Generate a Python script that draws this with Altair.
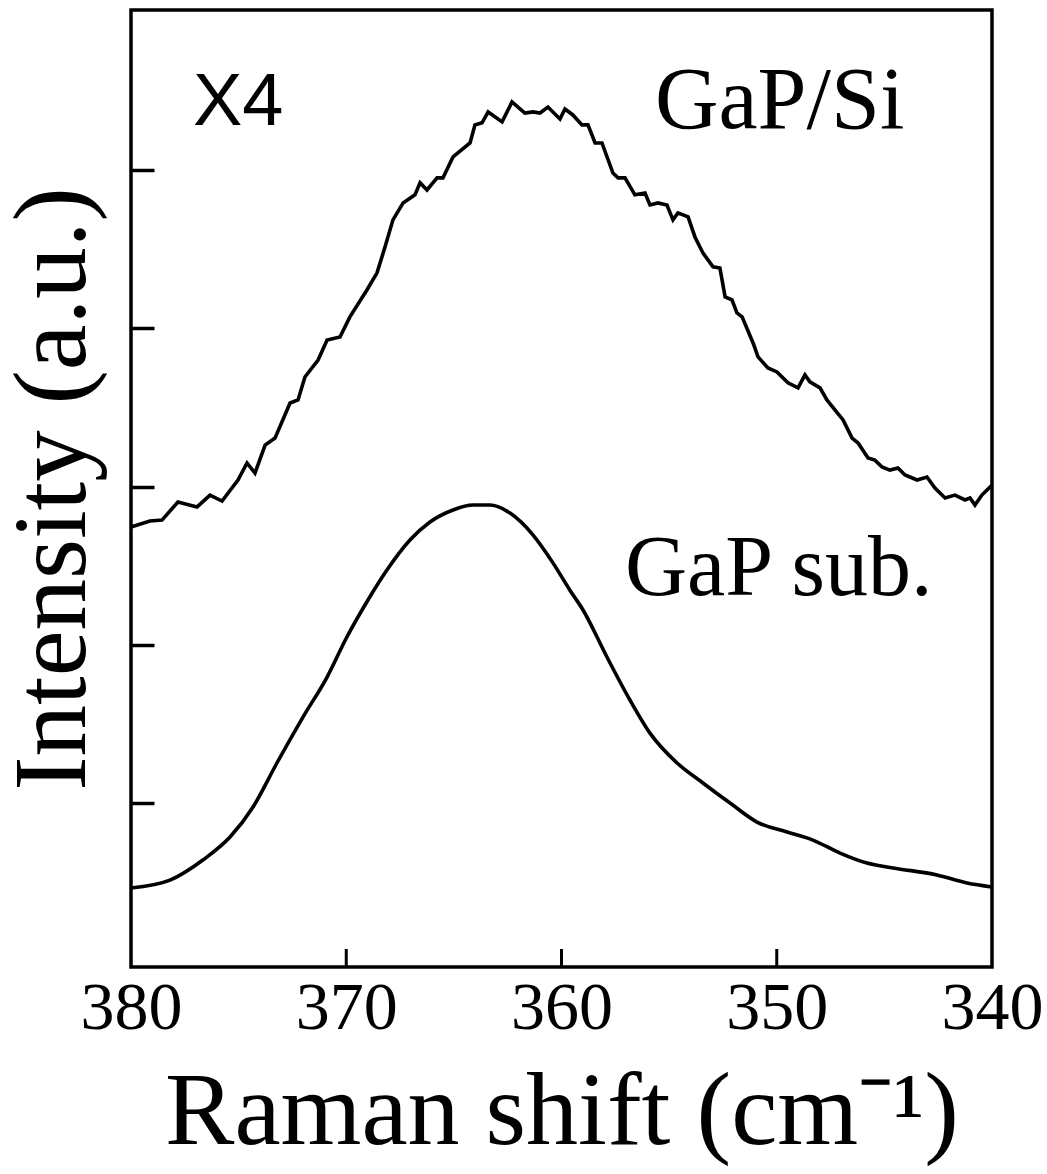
import altair as alt
import pandas as pd

# GaP/Si spectrum (x4), Raman shift in cm^-1, intensity in arbitrary units
gapsi_shift = [380.00, 379.12, 378.56, 377.82, 376.93, 376.33, 375.77, 375.03, 374.61, 374.24,
               373.77, 373.31, 372.61, 372.24, 371.92, 371.31, 370.89, 370.29, 369.83, 369.04,
               368.57, 368.20, 367.83, 367.36, 366.81, 366.57, 366.25, 365.78, 365.51, 365.04,
               364.25, 364.02, 363.69, 363.41, 362.76, 362.30, 361.70, 361.32,
               361.00, 360.63, 360.07, 359.84, 359.47, 359.05, 358.77, 358.44, 358.12, 357.61,
               357.37, 357.05, 356.59, 356.12, 355.89, 355.52, 355.10, 354.82, 354.59, 354.12,
               353.80, 353.43, 352.96, 352.64, 352.40, 352.08, 351.85, 351.61, 351.10, 350.87,
               350.41, 349.99, 349.48, 349.01, 348.69, 348.46, 347.99, 347.67, 346.92, 346.50,
               346.22, 345.76, 345.44, 345.11, 344.74, 344.37, 344.04, 343.48, 343.02, 342.65,
               342.18, 341.72, 341.25, 341.02, 340.79, 340.47, 340.00]
gapsi_int = [2.744, 2.782, 2.788, 2.902, 2.871, 2.946, 2.908, 3.041, 3.149, 3.085,
             3.262, 3.306, 3.528, 3.547, 3.692, 3.799, 3.926, 3.945, 4.072, 4.242,
             4.350, 4.514, 4.685, 4.792, 4.843, 4.919, 4.874, 4.950, 4.950, 5.083,
             5.171, 5.285, 5.298, 5.367, 5.304, 5.430, 5.360, 5.367,
             5.360, 5.398, 5.322, 5.385, 5.348, 5.285, 5.285, 5.171, 5.171, 4.981,
             4.950, 4.950, 4.843, 4.855, 4.779, 4.792, 4.779, 4.685, 4.729, 4.704,
             4.577, 4.476, 4.388, 4.381, 4.198, 4.179, 4.097, 4.072, 3.907, 3.819,
             3.749, 3.724, 3.655, 3.623, 3.705, 3.661, 3.623, 3.547, 3.421, 3.306,
             3.275, 3.180, 3.167, 3.123, 3.104, 3.117, 3.073, 3.041, 3.060, 2.991,
             2.928, 2.946, 2.915, 2.928, 2.883, 2.946, 3.009]

# GaP substrate spectrum
sub_shift = [380.00, 378.19, 376.66, 375.40, 374.33, 373.22, 372.01, 370.89, 369.97, 368.99,
             368.11, 367.04, 366.11, 365.04, 364.11, 363.32, 362.39, 361.32, 360.39, 359.61,
             359.00, 357.89, 356.82, 355.89, 354.63, 353.43, 352.17, 350.92, 349.52, 348.32,
             347.06, 345.81, 344.60, 342.56, 341.16, 340.00]
sub_int = [0.463, 0.513, 0.640, 0.785, 0.975, 1.253, 1.543, 1.796, 2.049, 2.283,
           2.472, 2.662, 2.776, 2.852, 2.883, 2.883, 2.832, 2.693, 2.516, 2.345,
           2.220, 1.923, 1.651, 1.442, 1.253, 1.127, 1.000, 0.880, 0.817, 0.766,
           0.684, 0.621, 0.590, 0.546, 0.495, 0.470]

x_ticks = [380, 370, 360, 350, 340]
x_inner_ticks = [370, 360, 350]
y_ticks = [1, 2, 3, 4, 5]
x_domain = [340, 380]
y_domain = [-0.036, 6.011]

x_title = "Raman shift (cm⁻¹)"
y_title = "Intensity (a.u.)"

SERIF = "Liberation Serif"
SANS = "Liberation Sans"
W, H = 861, 957

df_si = pd.DataFrame({"x": gapsi_shift, "y": gapsi_int})
df_sub = pd.DataFrame({"x": sub_shift, "y": sub_int})
df_xt = pd.DataFrame({"x": x_inner_ticks})

x_scale = alt.Scale(domain=x_domain, reverse=True, nice=False, zero=False)
y_scale = alt.Scale(domain=y_domain, nice=False, zero=False)

x_axis_main = alt.Axis(orient="bottom", values=x_ticks, ticks=False, tickSize=0, domain=False,
                       grid=False, labelFont=SERIF, labelFontSize=68, labelColor="black",
                       labelPadding=61, labelBaseline="alphabetic", labelFlush=False,
                       labelOverlap=False, format="d",
                       title=x_title, titleFont=SERIF, titleFontSize=104,
                       titleFontWeight="normal", titleColor="black", titleY=176,
                       titleBaseline="alphabetic")
y_axis_main = alt.Axis(orient="left", labels=False, ticks=False, domain=False, grid=False,
                       title=y_title, titleFont=SERIF, titleFontSize=103,
                       titleFontWeight="normal", titleColor="black", titleX=-47,
                       titleY=H / 2, titleBaseline="alphabetic", titleAngle=270,
                       titleAnchor="middle")

y_axis_ticks = alt.Axis(orient="right", offset=-W, values=y_ticks, labels=False,
                        ticks=True, tickSize=23, tickWidth=3.5, tickColor="black",
                        domain=False, grid=False, title="")

upper = alt.Chart(df_si).mark_line(color="black", strokeWidth=3.6).encode(
    x=alt.X("x:Q", scale=x_scale, axis=x_axis_main),
    y=alt.Y("y:Q", scale=y_scale, axis=y_axis_main),
    order=alt.Order("x:Q", sort="descending"),
)

lower = alt.Chart(df_sub).mark_line(color="black", strokeWidth=3.6, interpolate="monotone").encode(
    x=alt.X("x:Q", scale=x_scale, axis=None),
    y=alt.Y("y:Q", scale=y_scale, axis=y_axis_ticks),
    order=alt.Order("x:Q", sort="descending"),
)

xticks = alt.Chart(df_xt).mark_rule(color="black", strokeWidth=3).encode(
    x=alt.X("x:Q", scale=x_scale, axis=None),
    y=alt.value(H),
    y2=alt.value(H - 18),
)

def label(txt, font, size, px, py):
    return alt.Chart(pd.DataFrame({"t": [txt]})).mark_text(
        font=font, fontSize=size, align="left", baseline="alphabetic", color="black"
    ).encode(x=alt.value(px), y=alt.value(py), text="t:N")

chart = alt.layer(
    upper,
    lower,
    xticks,
    label("X4", SANS, 74, 62, 115),
    label("GaP/Si", SERIF, 88, 524, 118),
    label("GaP sub.", SERIF, 86, 494, 585),
).resolve_axis(x="independent", y="independent").properties(
    width=W,
    height=H,
    autosize=alt.AutoSizeParams(type="none"),
    padding={"left": 131, "top": 10, "right": 55, "bottom": 207},
    background="white",
).configure_view(stroke="black", strokeWidth=3.5)

chart.save("out.html", embed_options={"renderer": "svg", "actions": False})
